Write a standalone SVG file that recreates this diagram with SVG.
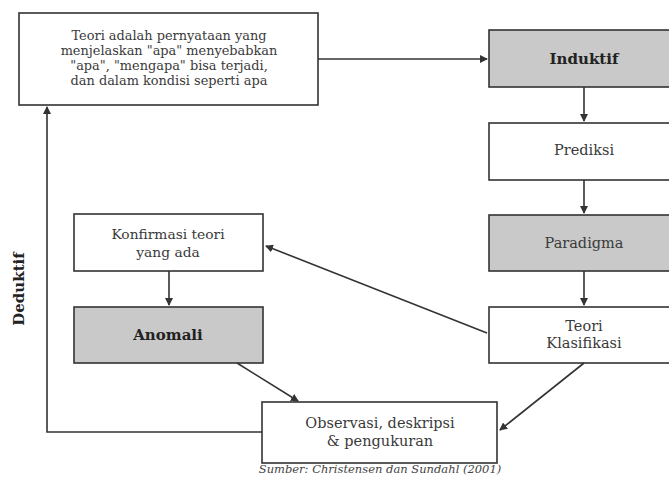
<svg xmlns="http://www.w3.org/2000/svg" width="669" height="482" viewBox="0 0 669 482">
<style>
.box{fill:#fff;stroke:#333;stroke-width:1.6}
.gray{fill:#c9c9c9;stroke:#333;stroke-width:1.6}
text{font-family:"DejaVu Serif","Liberation Serif",serif;fill:#3a3a3a;text-anchor:middle}
.t{font-size:12.9px}
.n{font-size:14.5px}
.b{font-size:15px;font-weight:bold;fill:#222}
.c{stroke:#333;stroke-width:1.6;fill:none}
</style>
<defs>
<marker id="ah" markerWidth="8" markerHeight="8" refX="7" refY="4" orient="auto" markerUnits="userSpaceOnUse">
<path d="M0,0 L8,4 L0,8 Z" fill="#333"/>
</marker>
</defs>
<rect width="669" height="482" fill="#fff"/>
<g id="teori">
<rect class="box" x="19" y="13" width="299" height="92"/>
<text class="t" x="169" y="39.5">Teori adalah pernyataan yang</text>
<text class="t" x="169" y="54.5">menjelaskan "apa" menyebabkan</text>
<text class="t" x="169" y="69.5">"apa", "mengapa" bisa terjadi,</text>
<text class="t" x="169" y="84.5">dan dalam kondisi seperti apa</text>
</g>
<g id="induktif">
<rect class="gray" x="489" y="30" width="182" height="57"/>
<text class="b" x="584" y="64">Induktif</text>
</g>
<g id="prediksi">
<rect class="box" x="489" y="123" width="182" height="57"/>
<text class="n" x="584" y="155">Prediksi</text>
</g>
<g id="paradigma">
<rect class="gray" x="489" y="215" width="182" height="56"/>
<text class="n" x="584" y="248">Paradigma</text>
</g>
<g id="klasifikasi">
<rect class="box" x="489" y="307" width="182" height="56"/>
<text class="n" x="584" y="331">Teori</text>
<text class="n" x="584" y="348">Klasifikasi</text>
</g>
<g id="konfirmasi">
<rect class="box" x="74" y="214" width="189" height="57"/>
<text class="n" x="168" y="239" style="font-size:13.8px">Konfirmasi teori</text>
<text class="n" x="168" y="257" style="font-size:13.8px">yang ada</text>
</g>
<g id="anomali">
<rect class="gray" x="74" y="307" width="189" height="56"/>
<text class="b" x="168" y="340">Anomali</text>
</g>
<g id="observasi">
<rect class="box" x="262" y="402" width="235" height="61"/>
<text class="n" x="380" y="428">Observasi, deskripsi</text>
<text class="n" x="380" y="446">&amp; pengukuran</text>
</g>
<g id="deduktif">
<text class="b" transform="translate(24,289) rotate(-90)">Deduktif</text>
</g>
<g id="sumber">
<text x="380" y="473" style="font-size:11.5px;font-style:italic;fill:#444">Sumber: Christensen dan Sundahl (2001)</text>
</g>
<g id="connectors">
<line class="c" x1="318" y1="59" x2="487" y2="59" marker-end="url(#ah)"/>
<line class="c" x1="584" y1="87" x2="584" y2="121" marker-end="url(#ah)"/>
<line class="c" x1="584" y1="180" x2="584" y2="213" marker-end="url(#ah)"/>
<line class="c" x1="584" y1="271" x2="584" y2="305" marker-end="url(#ah)"/>
<line class="c" x1="169" y1="271" x2="169" y2="305" marker-end="url(#ah)"/>
<line class="c" x1="487" y1="333" x2="266" y2="246" marker-end="url(#ah)"/>
<line class="c" x1="237" y1="363" x2="298" y2="401" marker-end="url(#ah)"/>
<line class="c" x1="584" y1="363" x2="500" y2="430" marker-end="url(#ah)"/>
<polyline class="c" points="262,432 47,432 47,107" marker-end="url(#ah)"/>
</g>
</svg>
